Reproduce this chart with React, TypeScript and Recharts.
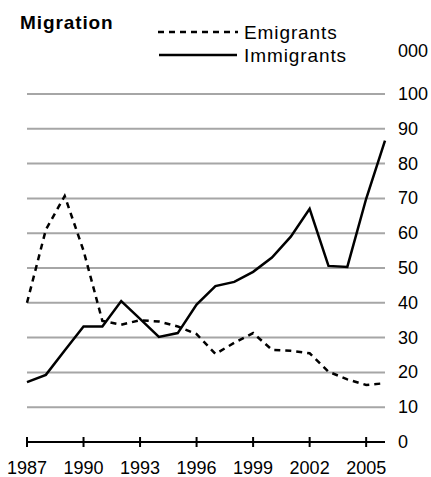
import React from 'react';
import { LineChart, Line, XAxis, YAxis, CartesianGrid } from 'recharts';

// Migration, thousands of people per year
const years = [1987, 1988, 1989, 1990, 1991, 1992, 1993, 1994, 1995, 1996, 1997, 1998, 1999, 2000, 2001, 2002, 2003, 2004, 2005, 2006];
const emigrants = [40, 61, 70.7, 55, 34.8, 33.7, 35, 34.6, 33.2, 31, 25.3, 28.5, 31.3, 26.5, 26.2, 25.5, 20.2, 18, 16.4, 16.9];
const immigrants = [17.2, 19.3, 26.3, 33.2, 33.2, 40.5, 35.4, 30.2, 31.3, 39.5, 44.8, 46, 48.9, 53, 59, 67, 50.6, 50.3, 69.9, 86.6];
const yearTicks = [1987, 1990, 1993, 1996, 1999, 2002, 2005];
const valueTicks = [0, 10, 20, 30, 40, 50, 60, 70, 80, 90, 100];

const data = years.map((year, i) => ({ year, emigrants: emigrants[i], immigrants: immigrants[i] }));

const FONT = '"Liberation Sans", Arial, sans-serif';

// year tick: a cross mark on the axis line plus the label
const YearTick = (props: any) => {
  const { x, y, payload } = props;
  return (
    <g>
      <line x1={x} x2={x} y1={y - 5} y2={y + 5} stroke="#000" strokeWidth={2} />
      <text x={x} y={y + 32} textAnchor="middle" fontSize={18} fill="#000" fontFamily={FONT}>
        {payload.value}
      </text>
    </g>
  );
};

const ValueTick = (props: any) => {
  const { x, y, payload } = props;
  return (
    <text x={x} y={y + 6} textAnchor="start" fontSize={18} fill="#000" fontFamily={FONT}>
      {payload.value}
    </text>
  );
};

export default function App() {
  return (
    <div style={{ position: 'absolute', left: 0, top: 0, width: 431, height: 477, background: '#fff' }}>
      <LineChart
        width={431}
        height={477}
        data={data}
        margin={{ top: 94, right: 0, left: 27, bottom: 0 }}
      >
        <CartesianGrid vertical={false} stroke="#a6a6a6" strokeWidth={2} />
        <XAxis
          dataKey="year"
          type="number"
          domain={[1987, 2006]}
          ticks={yearTicks}
          height={35}
          tickSize={0}
          tickMargin={0}
          tickLine={false}
          axisLine={{ stroke: '#000', strokeWidth: 2 }}
          tick={<YearTick />}
        />
        <YAxis
          orientation="right"
          domain={[0, 100]}
          ticks={valueTicks}
          width={46}
          tickSize={6}
          tickMargin={7}
          tickLine={false}
          axisLine={false}
          tick={<ValueTick />}
        />
        <Line
          dataKey="emigrants"
          stroke="#000"
          strokeWidth={2.5}
          strokeDasharray="6 5"
          dot={false}
          isAnimationActive={false}
        />
        <Line
          dataKey="immigrants"
          stroke="#000"
          strokeWidth={2.5}
          dot={false}
          isAnimationActive={false}
        />
      </LineChart>
      <svg
        width={431}
        height={80}
        style={{ position: 'absolute', left: 0, top: 0, pointerEvents: 'none' }}
        fontFamily={FONT}
      >
        <text x={20} y={29} fontSize={19} fontWeight="bold" letterSpacing={0.9}>Migration</text>
        <line x1={158} x2={238} y1={32} y2={32} stroke="#000" strokeWidth={2.5} strokeDasharray="6 5" />
        <text x={244} y={38.5} fontSize={19} letterSpacing={0.9}>Emigrants</text>
        <line x1={159} x2={237} y1={55} y2={55} stroke="#000" strokeWidth={2.5} />
        <text x={244} y={62} fontSize={19} letterSpacing={0.9}>Immigrants</text>
        <text x={398} y={57} fontSize={18}>000</text>
      </svg>
    </div>
  );
}
